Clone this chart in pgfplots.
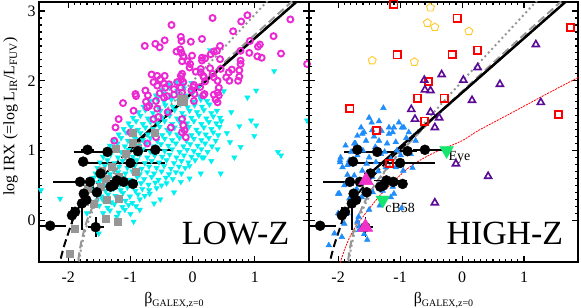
\documentclass[border=0pt]{standalone}
\usepackage{fontspec}
\setmainfont{Liberation Serif}
\usepackage{pgfplots}
\pgfplotsset{compat=1.18}
\definecolor{cyanc}{RGB}{0,240,240}
\definecolor{magc}{RGB}{235,40,210}
\definecolor{grayc}{RGB}{150,150,150}
\definecolor{bluec}{RGB}{30,140,250}
\definecolor{purc}{RGB}{90,10,150}
\definecolor{yelc}{RGB}{255,200,40}
\definecolor{pinkc}{RGB}{240,50,200}
\definecolor{greenc}{RGB}{20,230,110}
\pgfplotsset{
 panel/.style={
  scale only axis, height=260bp,
  xmin=-2.47, xmax=1.87, ymin=-0.6, ymax=3.13,
  xtick={-2,-1,0,1}, ytick={0,1,2,3},
  minor tick num=9,
  tick align=inside,
  major tick length=6bp, minor tick length=3bp,
  tick style={line width=1.2bp, black},
  axis line style={line width=2bp},
  /pgf/number format/assume math mode=true,
  tick label style={font=\fontsize{16}{18}\selectfont},
  xticklabel style={yshift=-6bp},
  label style={font=\fontsize{16}{18}\selectfont},
  xlabel={β{\fontsize{10}{11}\selectfont\raisebox{-3bp}{GALEX,z=0}}},
  xlabel style={at={(axis description cs:0.5,0)}, anchor=north, yshift=-27bp},
 },
 blackpts/.style={only marks, mark=*, mark size=5bp, black,
  error bars/.cd, x dir=both, x explicit, y dir=both, y explicit,
  error bar style={line width=1.8bp, black}, error mark=none},
 bdash/.style={black, line width=2bp, dash pattern=on 8bp off 4bp},
 gdash/.style={grayc, line width=2bp, dash pattern=on 8bp off 4bp},
 gdot/.style={grayc, line width=2bp, dash pattern=on 2bp off 3bp},
 bsolid/.style={black, line width=2.4bp},
}
\begin{document}
\begin{tikzpicture}
\path[use as bounding box] (-39bp,-46bp) rectangle (542bp,262bp);
% ---------------- LOW-Z ----------------
\begin{axis}[panel, at={(0,0)}, anchor=south west, width=270bp,
  ylabel={log IRX (=log L\textsubscript{IR}/L\textsubscript{FUV})},
  ylabel style={at={(axis description cs:-0.105,0.56)}, anchor=center}]
% cyan down-pointing triangles
\addplot[only marks, mark=triangle*, mark size=3.1bp, cyanc, mark options={rotate=180, fill=cyanc, draw=cyanc}] coordinates {
(-1.44,0.10) (-1.33,0.14) (-1.19,0.11) (-1.09,0.15) (-1.00,0.09)
(-1.50,0.21) (-1.37,0.18) (-1.26,0.23) (-1.13,0.19) (-1.03,0.22) (-0.91,0.20)
(-1.54,0.27) (-1.45,0.30) (-1.31,0.26) (-1.21,0.31) (-1.08,0.28) (-0.97,0.25) (-0.85,0.30)
(-1.58,0.38) (-1.47,0.34) (-1.36,0.37) (-1.24,0.35) (-1.12,0.39) (-1.01,0.34) (-0.88,0.37) (-0.77,0.35) (-0.69,0.38)
(-1.61,0.43) (-1.50,0.46) (-1.40,0.42) (-1.27,0.45) (-1.16,0.43) (-1.05,0.47) (-0.92,0.42) (-0.81,0.45) (-0.70,0.43) (-0.58,0.46)
(-1.62,0.51) (-1.52,0.54) (-1.39,0.50) (-1.29,0.53) (-1.17,0.51) (-1.04,0.55) (-0.95,0.50) (-0.83,0.53) (-0.71,0.51) (-0.60,0.54) (-0.50,0.50) (-0.42,0.53)
(-1.59,0.61) (-1.48,0.58) (-1.35,0.62) (-1.25,0.59) (-1.12,0.61) (-1.01,0.58) (-0.89,0.62) (-0.78,0.59) (-0.66,0.62) (-0.55,0.58) (-0.43,0.61) (-0.32,0.59)
(-1.56,0.67) (-1.44,0.70) (-1.33,0.66) (-1.20,0.69) (-1.08,0.67) (-0.97,0.70) (-0.85,0.66) (-0.73,0.69) (-0.62,0.67) (-0.50,0.70) (-0.38,0.66) (-0.27,0.69) (-0.18,0.67)
(-1.53,0.75) (-1.41,0.78) (-1.29,0.74) (-1.18,0.77) (-1.05,0.75) (-0.93,0.78) (-0.82,0.74) (-0.70,0.77) (-0.58,0.75) (-0.46,0.78) (-0.35,0.74) (-0.22,0.77) (-0.12,0.75) (-0.05,0.78)
(-1.49,0.83) (-1.37,0.86) (-1.26,0.82) (-1.13,0.85) (-1.01,0.83) (-0.90,0.86) (-0.77,0.82) (-0.66,0.85) (-0.54,0.83) (-0.42,0.86) (-0.30,0.82) (-0.18,0.85) (-0.07,0.83) (0.04,0.86)
(-1.44,0.91) (-1.32,0.94) (-1.20,0.90) (-1.09,0.93) (-0.96,0.91) (-0.85,0.94) (-0.73,0.90) (-0.61,0.93) (-0.49,0.91) (-0.37,0.94) (-0.26,0.90) (-0.14,0.93) (-0.02,0.91) (0.09,0.94) (0.15,0.90)
(-1.39,0.99) (-1.27,1.02) (-1.15,0.98) (-1.03,1.01) (-0.92,0.99) (-0.80,1.02) (-0.68,0.98) (-0.56,1.01) (-0.45,0.99) (-0.33,1.02) (-0.21,0.98) (-0.09,1.01) (0.02,0.99) (0.14,1.02) (0.24,0.98)
(-1.33,1.07) (-1.21,1.10) (-1.09,1.06) (-0.98,1.09) (-0.86,1.07) (-0.74,1.10) (-0.62,1.06) (-0.51,1.09) (-0.39,1.07) (-0.27,1.10) (-0.15,1.06) (-0.04,1.09) (0.08,1.07) (0.20,1.10) (0.31,1.06)
(-1.27,1.15) (-1.15,1.18) (-1.04,1.14) (-0.92,1.17) (-0.80,1.15) (-0.68,1.18) (-0.57,1.14) (-0.45,1.17) (-0.33,1.15) (-0.21,1.18) (-0.10,1.14) (0.02,1.17) (0.14,1.15) (0.26,1.18) (0.37,1.14)
(-1.19,1.23) (-1.07,1.26) (-0.96,1.22) (-0.84,1.25) (-0.72,1.23) (-0.61,1.26) (-0.49,1.22) (-0.37,1.25) (-0.25,1.23) (-0.14,1.26) (-0.02,1.22) (0.10,1.25) (0.21,1.23) (0.33,1.26) (0.41,1.22)
(-1.11,1.31) (-0.99,1.34) (-0.88,1.30) (-0.76,1.33) (-0.64,1.31) (-0.53,1.34) (-0.41,1.30) (-0.29,1.33) (-0.17,1.31) (-0.06,1.34) (0.06,1.30) (0.18,1.33) (0.30,1.31) (0.43,1.34)
(-1.03,1.39) (-0.91,1.42) (-0.80,1.38) (-0.68,1.41) (-0.56,1.39) (-0.45,1.42) (-0.33,1.38) (-0.21,1.41) (-0.09,1.39) (0.02,1.42) (0.14,1.38) (0.26,1.41) (0.38,1.39) (0.46,1.42)
(-0.96,1.47) (-0.84,1.50) (-0.72,1.46) (-0.61,1.49) (-0.49,1.47) (-0.37,1.50) (-0.25,1.46) (-0.14,1.49) (-0.02,1.47) (0.10,1.50) (0.22,1.46) (0.33,1.49) (0.44,1.47)
(-0.87,1.55) (-0.76,1.58) (-0.64,1.54) (-0.52,1.57) (-0.40,1.55) (-0.29,1.58) (-0.17,1.54) (-0.05,1.57) (0.07,1.55) (0.18,1.58) (0.30,1.54) (0.39,1.57)
(-0.79,1.63) (-0.67,1.66) (-0.55,1.62) (-0.44,1.65) (-0.32,1.63) (-0.20,1.66) (-0.08,1.62) (0.03,1.65) (0.15,1.63) (0.27,1.66)
(-0.69,1.71) (-0.57,1.74) (-0.46,1.70) (-0.34,1.73) (-0.22,1.71) (-0.10,1.74) (0.01,1.70) (0.13,1.73) (0.23,1.71)
(-0.59,1.79) (-0.47,1.82) (-0.36,1.78) (-0.24,1.81) (-0.12,1.79) (0.00,1.82) (0.11,1.78)
(-0.49,1.87) (-0.37,1.90) (-0.25,1.86) (-0.14,1.89) (-0.02,1.87) (0.09,1.90)
(-0.37,1.95) (-0.26,1.98) (-0.14,1.94) (-0.02,1.97)
(-2.44,0.43) (-2.13,0.31) (-1.51,-0.19) (-0.95,-0.02) (-1.22,0.05) (-0.62,0.24) (-0.52,0.30) (-0.19,0.55) (-0.30,0.40)
(0.13,0.67) (0.67,0.90) (1.02,1.36) (0.99,1.21) (1.42,0.93) (1.37,0.98) (0.88,1.76) (1.02,1.86) (1.31,2.14) (0.94,1.43)
(0.77,1.05) (0.45,0.67) (0.40,1.02) (0.18,0.90) (0.28,2.44) (1.84,1.43) (0.55,1.25) (0.62,1.55) (0.50,1.85) (-0.05,0.60)
(0.30,0.85) (0.75,1.35) (-0.85,0.15) (-1.70,0.10) (0.10,2.15) (0.60,1.12)
};
% magenta open circles
\addplot[only marks, mark=o, mark size=3bp, magc, mark options={line width=1.9bp}] coordinates {
(0.32,2.90) (0.88,2.94) (0.78,2.85) (1.57,2.88) (-0.34,2.80) (0.65,2.71) (1.30,2.64) (0.92,2.57) (-0.45,2.58) (-0.60,2.53)
(-0.53,2.48) (-0.77,2.50) (-0.03,2.56) (0.15,2.60) (-0.19,2.63) (-0.18,2.57) (-0.20,2.45) (-0.26,2.42) (-0.18,2.40) (-0.15,2.35)
(-0.01,2.36) (0.15,2.33) (0.15,2.29) (0.20,2.32) (0.29,2.38) (0.34,2.42) (0.44,2.50) (0.39,2.43) (0.44,2.31) (0.77,2.43)
(1.05,2.49) (1.08,2.52) (1.42,2.39) (1.04,2.35) (1.11,2.33) (0.91,2.40) (0.77,2.29) (-0.08,2.28) (-0.04,2.24) (-0.17,2.28)
(-0.05,2.19) (0.05,2.13) (0.13,2.12) (0.13,2.17) (0.17,2.07) (0.20,1.99) (0.28,2.18) (-0.17,2.10) (-0.19,2.07) (-0.18,2.02)
(-0.15,1.98) (-0.25,1.98) (-0.52,2.02) (-0.45,2.07) (-0.57,2.07) (-0.66,2.09) (-0.57,1.93) (-0.63,1.98) (-0.46,1.96) (-0.44,1.90)
(-0.38,1.95) (-0.30,1.88) (-0.19,1.90) (-0.17,1.83) (-0.30,1.80) (0.18,2.05) (0.34,2.05) (0.40,2.00) (0.32,2.10) (0.45,2.17)
(0.58,2.12) (0.63,2.16) (0.75,2.15) (0.75,2.06) (0.73,2.00) (0.59,2.00) (0.54,2.05) (0.42,1.90) (0.40,1.83) (0.42,1.79)
(0.34,1.80) (0.37,1.73) (0.40,1.69) (0.77,2.24) (0.02,1.94) (0.01,1.91) (0.12,1.91) (-0.02,1.86) (0.03,1.81) (-0.41,1.78)
(-0.46,1.76) (-0.59,1.71) (-0.76,1.86) (-0.72,1.79) (-0.92,1.81) (-0.91,1.78) (-0.75,1.70) (-0.70,1.64) (-0.73,1.62) (-0.57,1.60)
(-0.40,1.55) (-0.55,1.48) (-0.63,1.45) (-0.95,1.57) (-1.12,1.68) (-1.19,1.45) (-1.24,1.33) (-1.26,1.14) (-1.00,1.26) (-0.73,1.10)
(-0.59,1.19) (-0.17,1.45) (-0.15,1.36) (-0.13,1.29) (-0.17,1.26) (-0.11,1.19) (-0.35,1.33) (0.17,1.79) (-0.53,1.82) (0.19,1.81)
(0.02,1.71) (1.84,2.24)
};
% gray squares
\addplot[only marks, mark=square*, mark size=3.5bp, grayc] coordinates {
(-0.96,1.25) (-0.61,1.25) (-0.97,1.11) (-0.88,1.02) (-1.23,1.03) (-1.08,0.95) (-1.30,0.76) (-1.46,0.71) (-1.19,0.62) (-1.39,0.60)
(-0.92,0.69) (-1.48,0.48) (-1.69,0.45) (-1.38,0.29) (-1.19,0.31) (-1.59,0.24) (-1.73,0.27) (-1.40,0.02) (-1.21,-0.02) (-1.90,-0.12)
(-1.97,-0.48)
};
\addplot[only marks, mark=square*, mark size=5bp, grayc] coordinates {(-0.17,1.72)};
% relations
\addplot[gdot, smooth] coordinates {(-1.86,-0.95) (-1.83,-0.62) (-1.80,-0.44) (-1.75,-0.23) (-1.70,-0.075) (-1.60,0.157) (-1.50,0.337) (-1.35,0.56) (-1.20,0.753) (-1.00,0.984) (-0.80,1.198) (-0.40,1.603) (0.00,1.993) (0.60,2.568) (1.25,3.19)};
\addplot[gdash, smooth] coordinates {(-1.88,-1.09) (-1.86,-0.78) (-1.83,-0.52) (-1.78,-0.27) (-1.70,-0.01) (-1.60,0.208) (-1.50,0.377) (-1.30,0.645) (-1.00,0.968) (-0.70,1.25) (-0.30,1.60) (0.20,2.01) (0.80,2.50) (1.60,3.14)};
\addplot[bdash, smooth] coordinates {(-2.16,-0.72) (-2.12,-0.55) (-2.07,-0.38) (-2.02,-0.24) (-1.97,-0.11) (-1.92,0.02) (-1.85,0.15) (-1.75,0.30) (-1.60,0.47) (-1.45,0.62) (-1.30,0.76) (-1.10,0.93) (-0.90,1.10) (-0.60,1.35) (0.00,1.83) (1.70,3.16)};
\addplot[bsolid] coordinates {(-1.05,1.011) (1.70,3.156)};
% black points with error bars
\addplot[blackpts] coordinates {
(-1.69,1.01) +- (0.10,0)
(-1.37,0.98) += (0.30,0) -= (0.54,0)
(-0.88,0.99) +- (0.15,0)
(-0.60,1.01) += (0.27,0) -= (0.20,0)
(-1.76,0.84) +- (0.05,0)
(-1.00,0.82) += (0.56,0) -= (0.81,0)
(-1.48,0.67) +- (0.10,0)
(-1.65,0.55) +- (0,0)
(-1.81,0.55) += (0.20,0) -= (0.43,0)
(-1.22,0.57) += (0.33,0) -= (0.20,0)
(-1.27,0.50) +- (0,0)
(-1.11,0.55) +- (0,0)
(-0.96,0.52) +- (0,0)
(-1.54,0.40) +- (0,0)
(-1.75,0.38) +- (0,0)
(-1.71,0.29) +- (0,0)
(-1.78,0.24) += (0,0.10) -= (0,0.38)
(-1.89,0.12) +- (0,0)
(-1.94,0.07) +- (0,0.12)
(-2.29,-0.08) +- (0.25,0)
(-1.56,-0.10) +- (0.13,0.14)
(-1.32,0.48) +- (0,0)
};
\node[font=\fontsize{34}{36}\selectfont] at (axis cs:0.69,-0.19) {LOW-Z};
\end{axis}
% ---------------- HIGH-Z ----------------
\begin{axis}[panel, at={(270bp,0)}, anchor=south west, width=269bp, yticklabels={}]
% blue filled triangles
\addplot[only marks, mark=triangle*, mark size=3.3bp, bluec, mark options={fill=bluec, draw=bluec}] coordinates {
(-1.69,1.21) (-1.58,1.26) (-1.45,1.29) (-1.63,1.33) (-1.55,1.14) (-1.74,1.10) (-1.88,1.07) (-1.79,0.98) (-1.96,0.90) (-1.97,0.83)
(-1.93,0.76) (-1.82,0.86) (-1.69,0.93) (-1.50,0.90) (-1.31,0.95) (-1.18,1.24) (-1.10,1.33) (-1.21,1.10) (-1.34,1.14) (-1.07,1.12)
(-1.39,0.83) (-1.61,0.71) (-1.74,0.64) (-1.61,0.55) (-1.77,0.40) (-1.82,0.31) (-2.00,0.38) (-1.77,0.21) (-1.67,0.05) (-1.94,-0.24)
(-1.69,-0.02) (-1.66,-0.09) (-1.15,0.33) (-1.12,0.48) (-1.23,0.57) (-1.06,0.55) (-0.95,0.71) (-0.99,0.93) (-0.83,0.95) (-0.97,1.33)
(-0.86,1.26) (-0.75,1.14) (-0.98,0.17) (-1.10,0.38) (-1.33,0.21) (-1.44,0.40) (-1.54,0.81) (-1.23,0.76) (-1.07,0.76) (-1.46,1.40)
(-1.27,1.61) (-1.50,1.47) (-1.34,1.42) (-1.18,1.33) (-1.02,1.40) (-0.94,1.33) (-1.12,1.26) (-1.61,1.24) (-1.72,1.10) (-1.97,0.86)
(-1.85,0.79) (-1.98,0.38) (-2.15,-0.36) (-2.06,-0.19) (-1.53,-0.28) (-1.66,-0.14) (-1.62,0.33)
(-1.40,1.05) (-1.25,0.98) (-1.60,1.00) (-1.15,0.88) (-1.42,1.20) (-1.30,1.28) (-1.85,0.65) (-1.90,0.50) (-1.70,0.45) (-1.45,0.62)
(-1.35,0.70) (-1.05,1.00) (-0.90,1.18) (-0.80,0.75) (-1.28,0.42) (-1.50,0.15) (-1.85,0.10) (-1.58,-0.20) (-2.00,0.10) (-1.90,-0.05)
};
% red open squares
\addplot[only marks, mark=square, mark size=3.6bp, red, mark options={line width=1.8bp}] coordinates {
(-1.10,3.10) (-0.08,2.90) (1.75,2.76) (-1.05,2.37) (-0.16,2.38) (0.25,2.44) (-0.54,1.99) (-0.72,1.75) (-0.29,1.75) (-1.81,1.60)
(1.56,1.52) (-0.61,1.42) (-1.38,1.29) (-1.17,0.81)
};
% purple open triangles
\addplot[only marks, mark=triangle, mark size=4bp, purc, mark options={line width=1.6bp}] coordinates {
(1.19,2.52) (0.25,2.19) (-0.33,2.09) (0.02,2.01) (-0.61,2.01) (0.61,1.95) (-0.60,1.87) (-0.51,1.86) (0.16,1.72) (1.27,1.69)
(-0.82,1.59) (-0.51,1.55) (-0.76,1.45) (-0.37,1.47) (-0.44,1.33) (-0.10,0.81) (0.42,0.63) (-0.44,0.25)
};
% yellow pentagons
\addplot[only marks, mark=pentagon, mark size=4.2bp, yelc, mark options={line width=0.9bp}] coordinates {
(-0.51,3.05) (-0.56,2.83) (-0.44,2.77) (0.11,2.71) (-1.45,2.29) (-0.77,2.27)
};
% relations
\addplot[red, line width=0.8bp, dash pattern=on 2bp off 1bp, smooth] coordinates {(-1.98,-0.65) (-1.90,-0.43) (-1.80,-0.22) (-1.70,-0.07) (-1.60,0.05) (-1.45,0.22) (-1.31,0.37) (-1.10,0.56) (-0.85,0.76) (-0.60,0.90) (-0.37,1.00) (0.00,1.14) (0.27,1.29) (0.80,1.54) (1.30,1.78) (1.90,2.06)};
\addplot[gdot, smooth] coordinates {(-1.86,-0.95) (-1.83,-0.62) (-1.80,-0.44) (-1.75,-0.23) (-1.70,-0.075) (-1.60,0.157) (-1.50,0.337) (-1.35,0.56) (-1.20,0.753) (-1.00,0.984) (-0.80,1.198) (-0.40,1.603) (0.00,1.993) (0.60,2.568) (1.25,3.19)};
\addplot[gdash, smooth] coordinates {(-1.88,-1.09) (-1.86,-0.78) (-1.83,-0.52) (-1.78,-0.27) (-1.70,-0.01) (-1.60,0.208) (-1.50,0.377) (-1.30,0.645) (-1.00,0.968) (-0.70,1.25) (-0.30,1.60) (0.20,2.01) (0.80,2.50) (1.60,3.14)};
\addplot[bdash, smooth] coordinates {(-2.16,-0.72) (-2.12,-0.55) (-2.07,-0.38) (-2.02,-0.24) (-1.97,-0.11) (-1.92,0.02) (-1.85,0.15) (-1.75,0.30) (-1.60,0.47) (-1.45,0.62) (-1.30,0.76) (-1.10,0.93) (-0.90,1.10) (-0.60,1.35) (0.00,1.83) (1.70,3.16)};
\addplot[bsolid] coordinates {(-1.47,0.683) (1.70,3.156)};
% black points with error bars
\addplot[blackpts] coordinates {
(-1.69,1.01) +- (0.10,0)
(-1.37,0.98) += (0.30,0) -= (0.54,0)
(-0.88,0.99) +- (0.15,0)
(-0.60,1.01) += (0.27,0) -= (0.20,0)
(-1.76,0.84) +- (0.05,0)
(-1.00,0.82) += (0.56,0) -= (0.81,0)
(-1.48,0.67) +- (0.10,0)
(-1.65,0.55) +- (0,0)
(-1.81,0.55) += (0.20,0) -= (0.43,0)
(-1.22,0.57) += (0.33,0) -= (0.20,0)
(-1.27,0.50) +- (0,0)
(-1.11,0.55) +- (0,0)
(-0.96,0.52) +- (0,0)
(-1.54,0.40) +- (0,0)
(-1.75,0.38) +- (0,0)
(-1.71,0.29) +- (0,0)
(-1.78,0.24) += (0,0.10) -= (0,0.38)
(-1.89,0.12) +- (0,0)
(-1.94,0.07) +- (0,0.12)
(-2.29,-0.08) +- (0.25,0)
(-1.56,-0.10) +- (0.13,0.14)
(-1.32,0.48) +- (0,0)
};
% special objects
\addplot[only marks, mark=triangle*, mark size=8.5bp, pinkc, mark options={fill=pinkc, draw=pinkc}] coordinates {(-1.55,0.57) (-1.56,-0.10)};
\addplot[only marks, mark=triangle*, mark size=8bp, greenc, mark options={rotate=180, fill=greenc, draw=greenc}] coordinates {(-0.25,1.00) (-1.28,0.29)};
\node[anchor=west, font=\fontsize{14}{16}\selectfont, inner sep=0pt] at (axis cs:-0.22,0.90) {Eye};
\node[anchor=west, font=\fontsize{14}{16}\selectfont, inner sep=0pt] at (axis cs:-1.24,0.17) {cB58};
\node[font=\fontsize{34}{36}\selectfont] at (axis cs:0.69,-0.19) {HIGH-Z};
\end{axis}
\end{tikzpicture}
\end{document}
